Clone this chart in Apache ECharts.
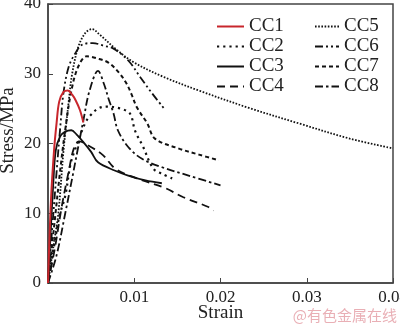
<!DOCTYPE html>
<html><head><meta charset="utf-8">
<script src="https://cdn.jsdelivr.net/npm/echarts@6/dist/echarts.min.js"></script>
<style>html,body{margin:0;padding:0;background:#fff}#c{width:400px;height:324px}</style>
</head><body><div id="c"></div>
<script>
var seriesNames = ['CC1','CC2','CC3','CC4','CC5','CC6','CC7','CC8'];
var xTicks = [0, 0.01, 0.02, 0.03, 0.04];
var yTicks = [0, 10, 20, 30, 40];
var CC1 = [[0,0],[0.00035,12],[0.0007,19],[0.001,23],[0.0013,26],[0.0018,27.4],[0.0023,27.6],[0.0028,27],[0.0032,26.2],[0.0037,24.8],[0.0041,23]];
var CC2 = [[0,0],[0.0008,6],[0.0013,9.5],[0.002,12.5],[0.0026,17],[0.0031,19],[0.0043,22.9],[0.0049,24],[0.0058,25],[0.0068,25.3],[0.0084,25],[0.0095,24.3],[0.0101,21.8],[0.011,19.6],[0.0122,16.4],[0.0133,15.6],[0.0144,15]];
var CC3 = [[0,0],[0.0003,7],[0.0006,14],[0.0009,19],[0.0014,21],[0.002,21.7],[0.0027,21.9],[0.0033,21.3],[0.0041,20.2],[0.005,18.8],[0.0058,17.3],[0.0078,16.1],[0.0093,15.4],[0.0113,14.7],[0.0132,14.3]];
var CC4 = [[0,0],[0.0008,5],[0.0016,11],[0.0024,16],[0.003,19.3],[0.0036,20.3],[0.0047,19.7],[0.0064,18.3],[0.0078,16.4],[0.0103,15],[0.0136,13.6],[0.0157,12.3],[0.0186,10.9],[0.0192,10.4]];
var CC5 = [[0,0],[0.0006,5],[0.0012,10],[0.0018,19],[0.0024,26],[0.0028,30],[0.0035,33.8],[0.0043,35.8],[0.0051,36.4],[0.006,35.6],[0.008,33.4],[0.01,31.6],[0.0133,29.6],[0.0177,27.5],[0.0233,25.1],[0.0293,22.8],[0.035,20.7],[0.04,19.3]];
var CC6 = [[0,0],[0.0005,8],[0.001,16],[0.0014,22],[0.0018,27.3],[0.0024,31],[0.0031,32.8],[0.004,34.2],[0.0052,34.4],[0.0065,34],[0.0076,33.6],[0.0093,31.9],[0.0107,29.5],[0.012,27.3],[0.0134,25.1]];
var CC7 = [[0,0],[0.0007,8],[0.0014,16],[0.002,22],[0.0027,27.5],[0.0035,31],[0.0045,32.5],[0.0057,32.2],[0.007,31.6],[0.0082,30.2],[0.0091,28.6],[0.0097,27],[0.0103,25.2],[0.0115,22.9],[0.0124,20.7],[0.0151,19.3],[0.0175,18.4],[0.0198,17.6]];
var CC8 = [[0,0],[0.001,4],[0.002,10],[0.0028,15],[0.0035,19.5],[0.0041,23.3],[0.0048,27.5],[0.0058,30.4],[0.0065,28.5],[0.007,26.5],[0.0076,24.3],[0.0081,21.9],[0.0093,19.5],[0.0109,17.8],[0.0132,16.6],[0.0163,15.4],[0.02,14]];
var seriesData = [CC1,CC2,CC3,CC4,CC5,CC6,CC7,CC8];

var styles = [
  {color:'#c8262c', width:2, type:'solid'},
  {color:'#111', width:2.2, type:[2.2,4]},
  {color:'#111', width:1.8, type:'solid'},
  {color:'#111', width:1.8, type:[8,5]},
  {color:'#111', width:1.8, type:[1.6,1.6]},
  {color:'#111', width:1.8, type:[8,3,2,3,2,3]},
  {color:'#111', width:2, type:[4,3]},
  {color:'#111', width:1.8, type:[8,3,2.5,3]}
];
var font = 'Liberation Serif';
var chart = echarts.init(document.getElementById('c'), null, {renderer:'canvas'});
var series = seriesNames.map(function(n,i){
  return {name:n, type:'line', data:seriesData[i], showSymbol:false, symbol:'none', smooth:0.35,
    lineStyle:{color:styles[i].color, width:styles[i].width, type:styles[i].type},
    itemStyle:{color:styles[i].color}, z: i===0?5:2};
});
function legend(names, left, w){
  return {show:true, data:names, orient:'vertical', left:left, top:12, itemWidth:w, itemHeight:10, itemGap:1,
    itemStyle:{color:'rgba(0,0,0,0)', borderWidth:0, opacity:0},
    textStyle:{fontFamily:font, fontSize:19, color:'#222', lineHeight:17.3}};
}
chart.setOption({
  animation:false,
  backgroundColor:'#fff',
  grid:{left:48, right:7, top:4, bottom:41, containLabel:false, outerBoundsMode:'none', show:true, borderColor:'#444', borderWidth:1.5},
  legend:[legend(seriesNames.slice(0,4),211,27), legend(seriesNames.slice(4),309,24)],
  xAxis:{type:'value', min:xTicks[0], max:xTicks[xTicks.length-1], interval:0.01,
    name:'Strain', nameLocation:'middle', nameGap:21, nameMoveOverlap:false,
    nameTextStyle:{fontFamily:font, fontSize:19, color:'#222'},
    axisLine:{lineStyle:{color:'#444', width:1.5}},
    axisTick:{inside:true, length:5, lineStyle:{color:'#444'}},
    splitLine:{show:false},
    axisLabel:{fontFamily:font, fontSize:17, color:'#222', margin:6,
      formatter:function(v){return v===0?'':String(Math.round(v*100)/100);}}},
  yAxis:{type:'value', min:yTicks[0], max:yTicks[yTicks.length-1], interval:10,
    name:'Stress/MPa', nameLocation:'middle', nameGap:30, nameMoveOverlap:false,
    nameTextStyle:{fontFamily:font, fontSize:19, color:'#222', padding:[0,0,0,26]},
    axisLine:{lineStyle:{color:'#444', width:1.5}},
    axisTick:{inside:true, length:5, lineStyle:{color:'#444'}},
    splitLine:{show:false},
    axisLabel:{fontFamily:font, fontSize:17, color:'#222', margin:7}},
  graphic:[{type:'text', right:3, bottom:1, style:{text:'@有色金属在线', fontFamily:'Noto Sans CJK SC', fontSize:15, fill:'rgba(215,110,120,0.55)'}}],
  series:series
});
</script></body></html>
